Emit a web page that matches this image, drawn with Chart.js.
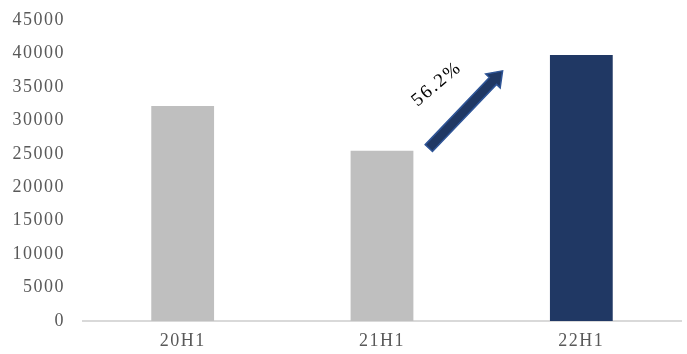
<!DOCTYPE html>
<html>
<head>
<meta charset="utf-8">
<script src="https://cdn.jsdelivr.net/npm/chart.js@4"></script>
<style>
  html, body { margin: 0; padding: 0; background: #fff; }
  #wrap { width: 687px; height: 354px; }
</style>
</head>
<body>
<div id="wrap"><canvas id="myBar"></canvas></div>
<script>
const labels = ['20H1', '21H1', '22H1'];
const values = [32150, 25450, 39750];
const barColors = ['#bfbfbf', '#bfbfbf', '#203864'];
const growthText = '56.2%';

// wider letter spacing for every text on the canvas
const spacing = {
    id: 'spacing',
    beforeLayout(chart) { chart.ctx.letterSpacing = '1.5px'; },
    beforeDraw(chart) { chart.ctx.letterSpacing = '1.5px'; }
};

// arrow from 21H1 up towards 22H1, with the growth rate written beside it
const growthArrow = {
    id: 'growthArrow',
    afterDatasetsDraw(chart) {
        const ctx = chart.ctx;
        const x = chart.scales.x, y = chart.scales.y;
        const step = x.getPixelForValue(2) - x.getPixelForValue(1);
        const x0 = x.getPixelForValue(1) + step * 0.235;
        const y0 = y.getPixelForValue(values[1] + 400);
        const x1 = x.getPixelForValue(1) + step * 0.605;
        const y1 = y.getPixelForValue(values[2] - 2350);
        const ang = Math.atan2(y1 - y0, x1 - x0);
        const len = Math.hypot(x1 - x0, y1 - y0);
        const shaft = 5, head = 10, headLen = 14;

        ctx.save();
        ctx.translate(x0, y0);
        ctx.rotate(ang);
        ctx.beginPath();
        ctx.moveTo(0, -shaft);
        ctx.lineTo(len - headLen, -shaft);
        ctx.lineTo(len - headLen, -head);
        ctx.lineTo(len, 0);
        ctx.lineTo(len - headLen, head);
        ctx.lineTo(len - headLen, shaft);
        ctx.lineTo(0, shaft);
        ctx.closePath();
        ctx.fillStyle = '#203864';
        ctx.fill();
        ctx.lineWidth = 1.5;
        ctx.strokeStyle = '#2f5597';
        ctx.stroke();
        ctx.restore();

        ctx.save();
        ctx.translate(x0 + 8, y0 - 64);
        ctx.rotate(-40 * Math.PI / 180);
        ctx.font = '19px "Liberation Serif"';
        ctx.letterSpacing = '2px';
        ctx.fillStyle = '#000';
        ctx.textAlign = 'center';
        ctx.textBaseline = 'middle';
        ctx.fillText(growthText, 0, 0);
        ctx.restore();
    }
};

const ctx = document.getElementById('myBar');
const myChart = new Chart(ctx, {
    type: 'bar',
    data: {
        labels: labels,
        datasets: [{
            data: values,
            backgroundColor: barColors,
            barPercentage: 0.63,
            categoryPercentage: 0.5
        }]
    },
    options: {
        responsive: true,
        maintainAspectRatio: false,
        animation: false,
        plugins: {
            legend: { display: false },
            tooltip: { enabled: false }
        },
        layout: { padding: { top: 20, right: 6, left: 0, bottom: 0 } },
        scales: {
            x: {
                grid: { display: false, drawTicks: false },
                border: { display: true, color: '#d9d9d9', width: 2 },
                ticks: {
                    color: '#595959',
                    font: { family: 'Liberation Serif', size: 18 },
                    padding: 9
                },
                afterFit(scale) {
                    scale.height = 33;
                    scale.paddingLeft = 0;
                    scale.paddingRight = 0;
                }
            },
            y: {
                min: 0,
                max: 45000,
                grid: { display: false, drawTicks: false },
                border: { display: false },
                ticks: {
                    stepSize: 5000,
                    color: '#595959',
                    font: { family: 'Liberation Serif', size: 18 },
                    padding: 18,
                    callback: v => String(v)
                },
                afterFit(scale) {
                    scale.width = 83;
                    scale.paddingTop = 0;
                    scale.paddingBottom = 0;
                }
            }
        }
    },
    plugins: [spacing, growthArrow]
});
</script>
</body>
</html>
